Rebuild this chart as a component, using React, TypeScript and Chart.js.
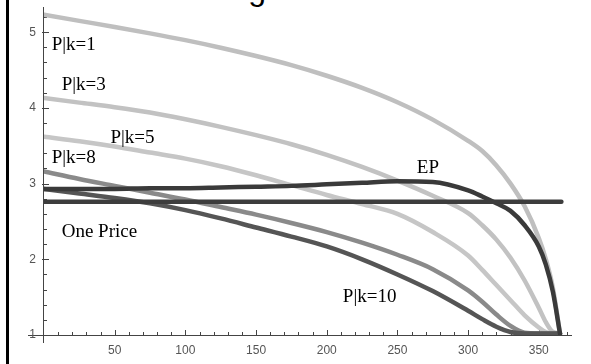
import { useEffect, useRef } from "react";
import { Chart, registerables } from "chart.js";

Chart.register(...registerables);

// ---- data (x = day of season, y = price) ----
const days = [0, 25, 50, 75, 100, 125, 150, 175, 200, 225, 250, 275, 300, 310, 320, 330, 340, 350, 355, 360, 365];
const pk1 = [5.23, 5.15, 5.07, 4.985, 4.895, 4.795, 4.685, 4.565, 4.425, 4.265, 4.075, 3.845, 3.565, 3.43, 3.24, 3.0, 2.7, 2.28, 2.0, 1.62, 1.02];
const pk3 = [4.13, 4.07, 4.01, 3.94, 3.85, 3.75, 3.64, 3.52, 3.38, 3.22, 3.04, 2.84, 2.61, 2.45, 2.26, 2.02, 1.72, 1.36, 1.17, 1.04, 1.02];
const pk5 = [3.62, 3.56, 3.49, 3.41, 3.33, 3.23, 3.11, 2.98, 2.85, 2.73, 2.6, 2.36, 2.05, 1.86, 1.66, 1.46, 1.26, 1.1, 1.04, 1.02, 1.02];
const pk8 = [3.16, 3.06, 2.97, 2.88, 2.79, 2.69, 2.59, 2.48, 2.36, 2.22, 2.06, 1.87, 1.59, 1.44, 1.27, 1.12, 1.03, 1.02, 1.02, 1.02, 1.02];
const pk10 = [2.93, 2.87, 2.81, 2.74, 2.65, 2.54, 2.42, 2.3, 2.17, 2.0, 1.8, 1.58, 1.32, 1.21, 1.11, 1.04, 1.02, 1.02, 1.02, 1.02, 1.02];
const ep = [2.93, 2.93, 2.93, 2.94, 2.94, 2.95, 2.96, 2.97, 2.99, 3.01, 3.03, 3.02, 2.91, 2.83, 2.74, 2.64, 2.45, 2.17, 1.93, 1.57, 1.02];
const onePriceDays = [0, 366];
const onePrice = [2.76, 2.76];

const xTickLabels = [50, 100, 150, 200, 250, 300, 350];
const yTickLabels = [1, 2, 3, 4, 5];

const curveLabels = ["P|k=1", "P|k=3", "P|k=5", "P|k=8", "One Price", "EP", "P|k=10"];
const curveLabelX = [5.4, 12.5, 47, 5.4, 12.5, 263.7, 211.4];
const curveLabelY = [4.76, 4.24, 3.54, 3.27, 2.29, 3.14, 1.44];

const pts = (xs: number[], ys: number[]) => xs.map((x, i) => ({ x, y: ys[i] }));

const axesPlugin = {
  id: "mmaAxes",
  beforeDatasetsDraw(chart: any) {
    const { ctx, scales } = chart;
    const xs = scales.x;
    const ys = scales.y;
    const x0 = xs.getPixelForValue(0);
    const y1 = ys.getPixelForValue(1);
    ctx.save();
    ctx.strokeStyle = "#444";
    ctx.lineWidth = 1;
    ctx.beginPath();
    // x axis (extends left past the y axis)
    ctx.moveTo(x0 - 16, y1 + 0.5);
    ctx.lineTo(xs.right, y1 + 0.5);
    // y axis (extends below x axis)
    ctx.moveTo(x0 - 0.5, ys.top);
    ctx.lineTo(x0 - 0.5, y1 + 8);
    // x ticks
    for (let v = 10; v <= 370; v += 10) {
      const px = Math.round(xs.getPixelForValue(v)) + 0.5;
      const len = v % 50 === 0 ? 5 : 3;
      ctx.moveTo(px, y1);
      ctx.lineTo(px, y1 - len);
    }
    // y ticks
    for (let i = 1; i <= 21; i++) {
      const v = 1 + i * 0.2;
      const py = Math.round(ys.getPixelForValue(v)) + 0.5;
      const major = i % 5 === 0;
      ctx.moveTo(x0 - (major ? 2 : 0), py);
      ctx.lineTo(x0 + (major ? 5 : 3), py);
    }
    ctx.stroke();

    // tick labels
    ctx.fillStyle = "#555";
    ctx.font = '12px "Liberation Sans"';
    ctx.textBaseline = "middle";
    ctx.textAlign = "center";
    xTickLabels.forEach((v) => {
      ctx.fillText(String(v), xs.getPixelForValue(v), y1 + 16);
    });
    ctx.textAlign = "right";
    yTickLabels.forEach((v) => {
      ctx.fillText(String(v), x0 - 8, ys.getPixelForValue(v));
    });
    ctx.restore();
  },
  afterDatasetsDraw(chart: any) {
    const { ctx, scales } = chart;
    ctx.save();
    ctx.fillStyle = "#000";
    ctx.font = '19px "Liberation Serif"';
    ctx.textAlign = "left";
    ctx.textBaseline = "alphabetic";
    curveLabels.forEach((t, i) => {
      ctx.fillText(t, scales.x.getPixelForValue(curveLabelX[i]), scales.y.getPixelForValue(curveLabelY[i]));
    });
    ctx.restore();
  },
};

export default function App() {
  const ref = useRef<HTMLCanvasElement>(null);
  useEffect(() => {
    const mk = (label: string, data: any[], color: string, width: number) => ({
      label,
      data,
      borderColor: color,
      backgroundColor: color,
      borderWidth: width,
      pointRadius: 0,
      fill: false,
      cubicInterpolationMode: "monotone" as const,
      borderCapStyle: "round" as const,
      borderJoinStyle: "round" as const,
    });
    const chart = new Chart(ref.current!, {
      type: "line",
      data: {
        datasets: [
          mk("One Price", pts(onePriceDays, onePrice), "#3d3d3d", 4.5),
          mk("EP", pts(days, ep), "#3a3a3a", 4.5),
          mk("P|k=10", pts(days, pk10), "#555555", 4.5),
          mk("P|k=8", pts(days, pk8), "#8a8a8a", 4.5),
          mk("P|k=5", pts(days, pk5), "#c6c6c6", 4.5),
          mk("P|k=3", pts(days, pk3), "#c2c2c2", 4.5),
          mk("P|k=1", pts(days, pk1), "#bfbfbf", 4.5),
        ],
      },
      options: {
        responsive: false,
        maintainAspectRatio: false,
        animation: false,
        devicePixelRatio: 1,
        layout: { padding: { top: 7, right: 19, left: 44, bottom: 29 } },
        plugins: { legend: { display: false }, tooltip: { enabled: false } },
        scales: {
          x: { type: "linear", min: 0, max: 373.5, display: false },
          y: { type: "linear", min: 1, max: 5.333, display: false },
        },
      },
      plugins: [axesPlugin],
    });
    return () => chart.destroy();
  }, []);

  return (
    <div style={{ position: "fixed", left: 0, top: 0, width: 591, height: 364, background: "#fff", overflow: "hidden" }}>
      <div style={{ position: "absolute", left: 6, top: 0, width: 3, height: 364, background: "#000" }} />
      <div
        style={{
          position: "absolute",
          right: 325,
          top: -27,
          fontFamily: '"Liberation Sans"',
          fontSize: 32,
          lineHeight: "32px",
          whiteSpace: "nowrap",
          color: "#000",
        }}
      >
        Pricing
      </div>
      <canvas ref={ref} width={591} height={364} style={{ position: "absolute", left: 0, top: 0 }} />
    </div>
  );
}
